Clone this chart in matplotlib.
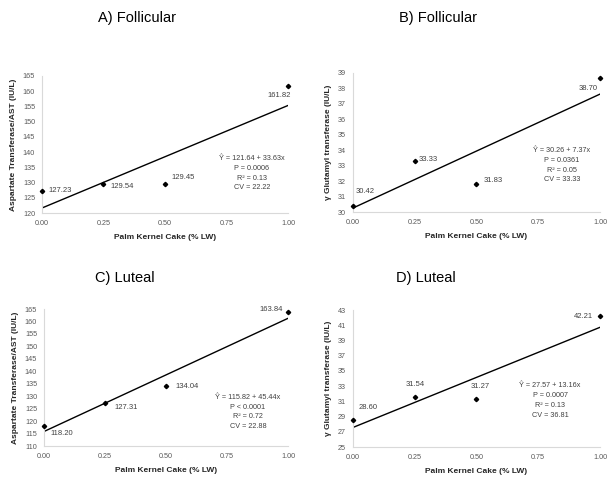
"""
four-panel regression scatter
"""

import numpy as np
import matplotlib.pyplot as plt

plt.rcParams['font.family'] = ['Liberation Sans', 'DejaVu Sans']

pkc = [0.00, 0.25, 0.50, 1.00]

ast_fol = [127.23, 129.54, 129.45, 161.82]
ggt_fol = [30.42, 33.33, 31.83, 38.70]
ast_lut = [118.20, 127.31, 134.04, 163.84]
ggt_lut = [28.60, 31.54, 31.27, 42.21]

# intercept, slope
fit_ast_fol = (121.64, 33.63)
fit_ggt_fol = (30.26, 7.37)
fit_ast_lut = (115.82, 45.44)
fit_ggt_lut = (27.57, 13.16)

stats_ast_fol = ['\u0176 = 121.64 + 33.63x', 'P = 0.0006', 'R\u00b2 = 0.13', 'CV = 22.22']
stats_ggt_fol = ['\u0176 = 30.26 + 7.37x', 'P = 0.0361', 'R\u00b2 = 0.05', 'CV = 33.33']
stats_ast_lut = ['\u0176 = 115.82 + 45.44x', 'P < 0.0001', 'R\u00b2 = 0.72', 'CV = 22.88']
stats_ggt_lut = ['\u0176 = 27.57 + 13.16x', 'P = 0.0007', 'R\u00b2 = 0.13', 'CV = 36.81']

titles = ['A) Follicular', 'B) Follicular', 'C) Luteal', 'D) Luteal']
ast_label = 'Aspartate Transferase/AST (IU/L)'
ggt_label = '\u03b3 Glutamyl transferase (IU/L)'
x_label = 'Palm Kernel Cake (% LW)'
x_ticks = [0.00, 0.25, 0.50, 0.75, 1.00]

grey = '#595959'
spine = '#d9d9d9'


def panel(ax, y, fit, stats, ylabel, ylim, ystep, offsets, stat_xy):
    xs = np.array([0.0, 1.0])
    ax.plot(xs, fit[0] + fit[1] * xs, color='black', lw=1.0)
    ax.plot(pkc, y, 'D', color='black', ms=2.2, clip_on=False, zorder=3)
    for xv, yv, (dx, dy, ha) in zip(pkc, y, offsets):
        ax.annotate(f'{yv:.2f}', (xv, yv), xytext=(dx, dy),
                    textcoords='offset points', ha=ha, va='center',
                    fontsize=5.5, color='#404040')
    ax.text(stat_xy[0], stat_xy[1], '\n'.join(stats), ha='center', va='top',
            fontsize=5.2, color='#404040', linespacing=1.55)
    ax.set_xlim(0, 1)
    ax.set_ylim(*ylim)
    ax.set_xticks(x_ticks)
    ax.set_xticklabels([f'{t:.2f}' for t in x_ticks])
    ax.set_yticks(np.arange(ylim[0], ylim[1] + 0.01, ystep))
    ax.tick_params(length=0, labelsize=5.2, labelcolor=grey, pad=5)
    for s in ['top', 'right']:
        ax.spines[s].set_visible(False)
    for s in ['left', 'bottom']:
        ax.spines[s].set_color(spine)
        ax.spines[s].set_linewidth(0.8)
    ax.set_xlabel(x_label, fontsize=6, fontweight='bold', color='#262626', labelpad=5)
    ax.set_ylabel(ylabel, fontsize=6, fontweight='bold', color='#262626', labelpad=4)


fig = plt.figure(figsize=(6.11, 4.83), dpi=100)

axA = fig.add_axes([0.0687, 0.559, 0.4026, 0.284])
axB = fig.add_axes([0.5777, 0.561, 0.4043, 0.288])
axC = fig.add_axes([0.0720, 0.0766, 0.3993, 0.2836])
axD = fig.add_axes([0.5777, 0.0745, 0.4043, 0.2836])

panel(axA, ast_fol, fit_ast_fol, stats_ast_fol, ast_label, (120, 165), 5,
      [(5, 0, 'left'), (5, -2, 'left'), (5, 5, 'left'), (2, -7, 'right')],
      (0.854, 139.0))
panel(axB, ggt_fol, fit_ggt_fol, stats_ggt_fol, ggt_label, (30, 39), 1,
      [(2, 10, 'left'), (3, 1, 'left'), (5, 2, 'left'), (-2, -8, 'right')],
      (0.846, 34.2))
panel(axC, ast_lut, fit_ast_lut, stats_ast_lut, ast_label, (110, 165), 5,
      [(5, -6, 'left'), (7, -3, 'left'), (7, 0, 'left'), (-4, 2, 'right')],
      (0.836, 130.9))
panel(axD, ggt_lut, fit_ggt_lut, stats_ggt_lut, ggt_label, (25, 43), 2,
      [(4, 9, 'left'), (0, 9, 'center'), (3, 9, 'center'), (-5, 0, 'right')],
      (0.798, 33.5))

title_pos = [(0.224, 0.963), (0.717, 0.963), (0.205, 0.424), (0.697, 0.424)]
for t, (tx, ty) in zip(titles, title_pos):
    fig.text(tx, ty, t, ha='center', va='center', fontsize=10.5, color='black')

fig.savefig('out.png', dpi=100)
